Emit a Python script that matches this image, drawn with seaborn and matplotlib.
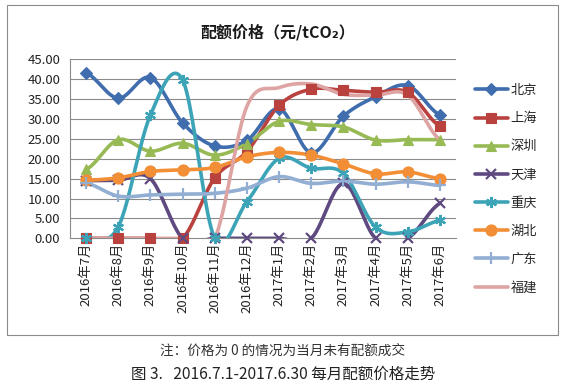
import numpy as np
import pandas as pd
import matplotlib
matplotlib.use("Agg")
import matplotlib.pyplot as plt
import seaborn as sns
from matplotlib.lines import Line2D
from matplotlib.patches import Rectangle
from matplotlib.ticker import FormatStrFormatter

# 数据 (元/tCO2)，价格为 0 表示当月无成交
months = ["2016年7月", "2016年8月", "2016年9月", "2016年10月", "2016年11月", "2016年12月",
          "2017年1月", "2017年2月", "2017年3月", "2017年4月", "2017年5月", "2017年6月"]

beijing   = [41.6, 35.2, 40.4, 29.0, 23.2, 24.6, 32.6, 21.5, 30.7, 35.6, 38.4, 31.0]
shanghai  = [0, 0, 0, 0, 15.2, 21.8, 33.4, 37.5, 37.2, 36.7, 36.7, 28.2]
shenzhen  = [17.3, 24.8, 21.9, 23.9, 20.9, 23.8, 29.4, 28.6, 28.0, 24.7, 24.8, 24.8]
tianjin   = [14.5, 14.6, 15.0, 0, 0, 0, 0, 0, 13.8, 0, 0, 8.8]
chongqing = [0, 2.9, 31.0, 39.8, 0, 9.2, 20.1, 17.6, 16.3, 2.8, 1.6, 4.5]
hubei     = [14.6, 15.2, 16.8, 17.2, 17.8, 20.5, 21.6, 20.9, 18.7, 16.2, 16.7, 15.0]
guangdong = [13.9, 10.6, 10.9, 11.1, 11.3, 12.6, 15.5, 13.8, 14.4, 13.6, 14.2, 13.3]
fujian    = [0, 0, 0, 0, 0, 33.2, 37.9, 38.8, 36.2, 36.0, 36.0, 24.8]

names   = ["北京", "上海", "深圳", "天津", "重庆", "湖北", "广东", "福建"]
series  = [beijing, shanghai, shenzhen, tianjin, chongqing, hubei, guangdong, fujian]
colors  = ["#3F6DAE", "#B9413E", "#98BA55", "#5E4A80", "#3CA4B6", "#F28E35", "#93AED3", "#DDA4A3"]
markers = ["D", "s", "^", "x", (6, 2, 0), "o", "+", None]
msizes  = [6, 7, 7, 7, 8, 8, 8, 0]


def smooth(y, n=24):
    """Excel 风格的平滑线 (Catmull-Rom)"""
    y = np.asarray(y, float)
    x = np.arange(len(y), dtype=float)
    p = np.r_[y[0], y, y[-1]]
    xs, ys = [], []
    t = np.linspace(0, 1, n, endpoint=False)
    for i in range(len(y) - 1):
        p0, p1, p2, p3 = p[i], p[i + 1], p[i + 2], p[i + 3]
        c1 = p1 + (p2 - p0) / 6
        c2 = p2 - (p3 - p1) / 6
        b = ((1 - t) ** 3 * p1 + 3 * (1 - t) ** 2 * t * c1
             + 3 * (1 - t) * t ** 2 * c2 + t ** 3 * p2)
        xs.append(x[i] + t)
        ys.append(b)
    xs.append([x[-1]])
    ys.append([y[-1]])
    return np.concatenate(xs), np.concatenate(ys)


sns.set_style("white")
plt.rcParams["font.family"] = ["Noto Sans CJK SC", "DejaVu Sans"]

fig = plt.figure(figsize=(5.62, 3.84), dpi=100)
ax = fig.add_axes([70 / 562, 1 - 238.3 / 384, 386 / 562, 179 / 384])

grid_c = "#8A8A8A"
for v in range(5, 50, 5):
    ax.axhline(v, color=grid_c, lw=0.8, zorder=0)

for name, vals, c, m, ms in zip(names, series, colors, markers, msizes):
    xs, ys = smooth(vals)
    df = pd.DataFrame({"x": xs, "y": ys})
    sns.lineplot(data=df, x="x", y="y", ax=ax, color=c, lw=2.6, sort=False)
    if m is not None:
        mew = 1.6 if m in ("x", "+") or isinstance(m, tuple) else 0.8
        ax.plot(range(len(vals)), vals, ls="none", marker=m, ms=ms, color=c,
                mec=c, mew=mew, clip_on=False, zorder=3)

ax.set_xlim(-0.5, 11.5)
ax.set_ylim(0, 45)
ax.set_xticks(range(12))
ax.set_xticklabels(months, rotation=90, fontsize=9.5, color="#222222")
ax.set_xticks(np.arange(-0.5, 12, 1), minor=True)
ax.tick_params(axis="x", which="major", length=0, pad=3)
ax.tick_params(axis="x", which="minor", length=4, color=grid_c, direction="out")
ax.set_yticks(range(0, 50, 5))
ax.yaxis.set_major_formatter(FormatStrFormatter("%.2f"))
ax.tick_params(axis="y", length=4, color=grid_c, direction="out", labelsize=9.5,
               labelcolor="#222222", pad=3)
ax.set_xlabel("")
ax.set_ylabel("")
for s in ["top", "right"]:
    ax.spines[s].set_visible(False)
ax.spines["left"].set_color(grid_c)
ax.spines["bottom"].set_color(grid_c)
ax.spines["left"].set_linewidth(0.8)
ax.spines["bottom"].set_linewidth(0.8)

handles = [Line2D([], [], color=c, lw=2.6, marker=m if m is not None else None,
                  ms=ms, mec=c, mew=1.6 if (m in ("x", "+") or isinstance(m, tuple)) else 0.8)
           for c, m, ms in zip(colors, markers, msizes)]
fig.legend(handles, names, loc="upper left", bbox_to_anchor=(475 / 562, 1 - 84 / 384),
           frameon=False, fontsize=9.5, handlelength=2.5, handletextpad=0.2,
           labelspacing=1.15, borderpad=0, borderaxespad=0)

fig.text(278 / 562, 1 - 32 / 384, "配额价格（元/tCO₂）", ha="center", va="center",
         fontsize=11.5, fontweight="bold", color="#1A1A1A")

fig.patches.append(Rectangle((7 / 562, 1 - 335 / 384), 551 / 562, 330 / 384,
                             transform=fig.transFigure, fill=False, ec="#8A8A8A", lw=0.8))

fig.text(283 / 562, 1 - 351 / 384, "注：价格为 0 的情况为当月未有配额成交", ha="center",
         va="center", fontsize=9.8, color="#333333")
fig.text(283 / 562, 1 - 374 / 384, "图 3.   2016.7.1-2017.6.30 每月配额价格走势", ha="center",
         va="center", fontsize=11.2, color="#222222")

fig.savefig("out.png", dpi=100, facecolor="white")
